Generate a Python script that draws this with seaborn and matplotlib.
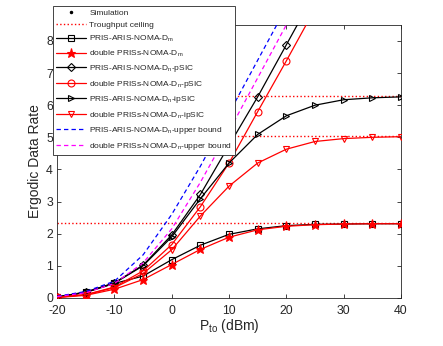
import matplotlib
matplotlib.use("Agg")
import matplotlib.pyplot as plt
from matplotlib.lines import Line2D
import seaborn as sns

# transmit power (dBm)
p_to = [-20, -15, -10, -5, 0, 5, 10, 15, 20, 25, 30, 35, 40]

# ergodic data rates
aris_dm = [0.02, 0.17, 0.45, 0.68, 1.19, 1.64, 1.98, 2.15, 2.25, 2.29, 2.30, 2.31, 2.31]
double_dm = [0.01, 0.08, 0.27, 0.57, 1.04, 1.51, 1.89, 2.12, 2.23, 2.28, 2.30, 2.31, 2.31]
aris_psic = [0.03, 0.18, 0.47, 1.02, 1.96, 3.22, 4.75, 6.26, 7.88, 9.50, 11.15, 12.80, 14.45]
double_psic = [0.02, 0.10, 0.34, 0.84, 1.66, 2.84, 4.20, 5.80, 7.38, 9.00, 10.65, 12.30, 13.95]
aris_ipsic = [0.03, 0.18, 0.46, 1.00, 1.90, 3.09, 4.20, 5.09, 5.67, 6.00, 6.17, 6.23, 6.26]
double_ipsic = [0.02, 0.10, 0.32, 0.76, 1.50, 2.55, 3.48, 4.20, 4.63, 4.87, 4.96, 5.00, 5.02]
aris_ub = [0.05, 0.20, 0.52, 1.34, 2.60, 4.10, 5.75, 7.40, 9.05, 10.70, 12.35, 14.00, 15.65]
double_ub = [0.04, 0.16, 0.45, 1.09, 2.15, 3.60, 5.20, 6.85, 8.50, 10.15, 11.80, 13.45, 15.10]
ceilings = [2.32, 5.04, 6.28]

labels = [
    "Simulation",
    "Troughput ceiling",
    r"PRIS-ARIS-NOMA-D$_{\rm m}$",
    r"double PRISs-NOMA-D$_{\rm m}$",
    r"PRIS-ARIS-NOMA-D$_{\rm n}$-pSIC",
    r"double PRISs-NOMA-D$_{\rm n}$-pSIC",
    r"PRIS-ARIS-NOMA-D$_{\rm n}$-ipSIC",
    r"double PRISs-NOMA-D$_{\rm n}$-ipSIC",
    r"PRIS-ARIS-NOMA-D$_{\rm n}$-upper bound",
    r"double PRISs-NOMA-D$_{\rm n}$-upper bound",
]

sns.set_style("ticks")
plt.rcParams["font.family"] = ["Liberation Sans", "DejaVu Sans"]
plt.rcParams["mathtext.fontset"] = "custom"
plt.rcParams["mathtext.rm"] = "Liberation Sans"
plt.rcParams["mathtext.it"] = "Liberation Sans:italic"
plt.rcParams["axes.unicode_minus"] = False

fig = plt.figure(figsize=(4.43, 3.46), dpi=100)
ax = fig.add_axes([0.129, 0.139, 0.776, 0.789])

for c in ceilings:
    ax.axhline(c, color="red", linestyle=":", linewidth=1.0, zorder=1)

series = [
    (aris_dm, "black", "s", "none", "-", 4.3),
    (double_dm, "red", "*", "red", "-", 6.5),
    (aris_psic, "black", "D", "none", "-", 3.8),
    (double_psic, "red", "o", "none", "-", 5.0),
    (aris_ipsic, "black", ">", "none", "-", 5.0),
    (double_ipsic, "red", "v", "none", "-", 5.0),
    (aris_ub, "blue", None, "none", "--", 0),
    (double_ub, "magenta", None, "none", "--", 0),
]

handles = [
    Line2D([], [], color="black", marker=".", markersize=3, linestyle="none"),
    Line2D([], [], color="red", linestyle=":", linewidth=1.0),
]
for vals, col, mk, fc, ls, ms in series:
    sns.lineplot(x=p_to, y=vals, ax=ax, color=col, marker=mk, markersize=ms,
                 markerfacecolor=fc, markeredgecolor=col, markeredgewidth=0.8,
                 linestyle=ls, linewidth=0.9, zorder=3)
    if ls == "--":
        ax.lines[-1].set_dashes((3.5, 2.5))
    handles.append(ax.lines[-1])

ax.set_xlim(-20, 40)
ax.set_ylim(0, 8.5)
ax.set_xticks([-20, -10, 0, 10, 20, 30, 40])
ax.set_yticks(range(0, 9))
ax.tick_params(direction="in", top=True, right=True, labelsize=8.8,
               length=3, width=0.6, colors="0.15")
ax.tick_params(axis="x", pad=5)
ax.tick_params(axis="y", pad=3)
for sp in ax.spines.values():
    sp.set_visible(True)
    sp.set_color("0.15")
    sp.set_linewidth(0.6)

ax.set_xlabel(r"P$_{\rm to}$ (dBm)", fontsize=10, color="0.15", labelpad=0)
ax.set_ylabel("Ergodic Data Rate", fontsize=10, color="0.15", labelpad=3)

leg = fig.legend(handles, labels, loc="upper left",
                 bbox_to_anchor=(0.1196, 0.983), bbox_transform=fig.transFigure,
                 fontsize=6.0, frameon=True, fancybox=False, framealpha=1,
                 edgecolor="0.15", handlelength=3.6, handletextpad=0.35,
                 labelspacing=0.54, borderpad=0.4, borderaxespad=0)
leg.get_frame().set_linewidth(0.6)

fig.savefig("out.png", dpi=100)
